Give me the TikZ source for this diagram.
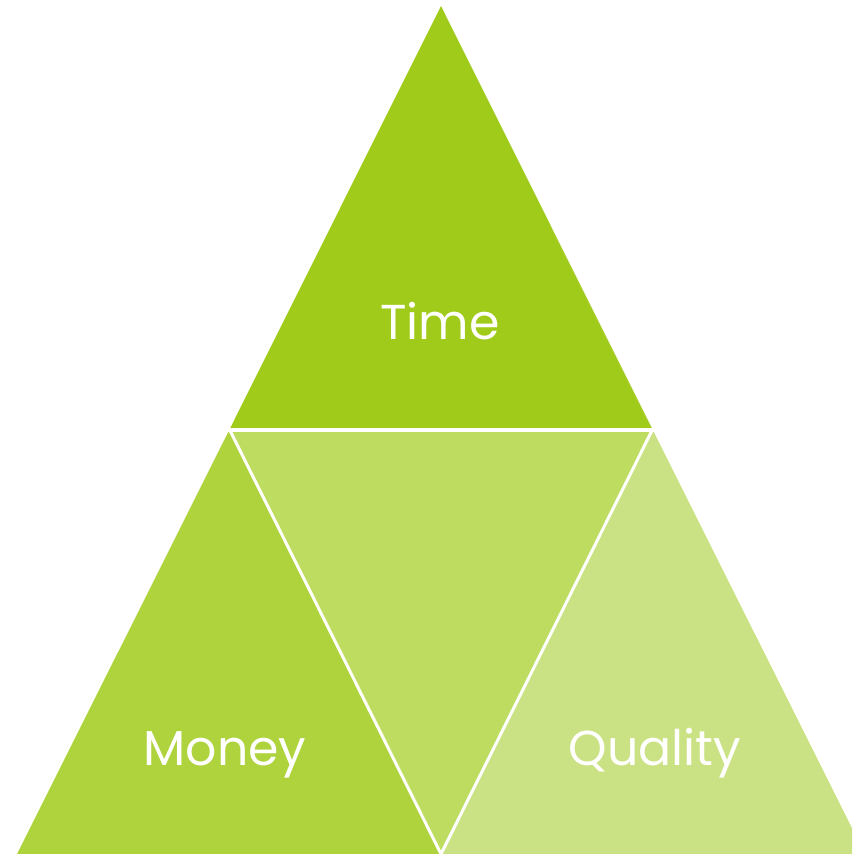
\documentclass[tikz,border=0pt]{standalone}
\usepackage{fontspec}
\setmainfont{Poppins}
\usepackage{xcolor}
\usepackage{tikz}
\usetikzlibrary{calc}
\definecolor{bg}{HTML}{FFFFFF}
\definecolor{timec}{HTML}{A0CB1B}
\definecolor{moneyc}{HTML}{AED33C}
\definecolor{midc}{HTML}{BDDC60}
\definecolor{qualc}{HTML}{CAE283}
\definecolor{text}{HTML}{FFFFFF}
\tikzset{
  piece/.style={draw=none},
  cut/.style={draw=bg, line width=3pt, line cap=butt},
  cuth/.style={draw=bg, line width=4pt, line cap=butt},
  lab/.style={text=text, font=\fontsize{49}{49}\selectfont, anchor=base, inner sep=0pt},
}
\begin{document}
\begin{tikzpicture}[x=1pt,y=-1pt]
  \useasboundingbox (0,0) rectangle (852,854);
  \clip (0,0) rectangle (852,854);
  \coordinate (T) at (441,6);
  \coordinate (L) at (229.5,429.5);
  \coordinate (R) at (652.5,429.5);
  \coordinate (BL) at (17,854);
  \coordinate (BM) at (441,854);
  \coordinate (BR) at (865,854);
  \fill[timec, piece] (T) -- (L) -- (R) -- cycle;
  \fill[moneyc, piece] (L) -- (BL) -- (BM) -- cycle;
  \fill[midc, piece] (L) -- (R) -- (BM) -- cycle;
  \fill[qualc, piece] (R) -- (BM) -- (BR) -- cycle;
  \draw[cuth] ($(L)+(-4,0)$) -- ($(R)+(4,0)$);
  \draw[cut] (L) -- (BM) -- (R);
  \node[lab] (time) at (440,339) {Time};
  \node[lab] (money) at (225,765) {Money};
  \node[lab] (quality) at (655,765) {Quality};
\end{tikzpicture}
\end{document}
